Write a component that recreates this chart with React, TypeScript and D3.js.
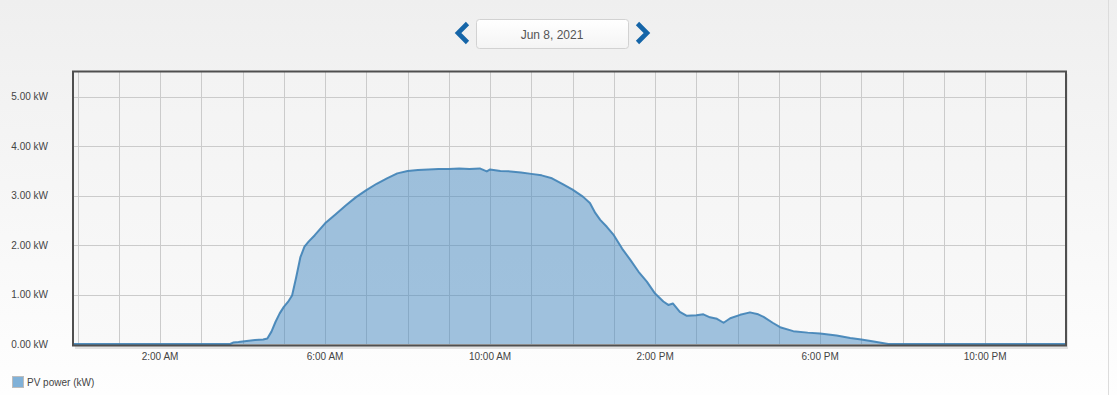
import React, { useEffect, useRef } from 'react';
import * as d3 from 'd3';

// hours since midnight (Jun 8, 2021) and PV power in kW
const hours = [
  -0.12, 3.7, 3.77, 3.9, 4.1, 4.3, 4.5, 4.6, 4.7, 4.8, 4.9, 5.0, 5.1, 5.2, 5.3, 5.4, 5.5, 5.6, 5.75,
  6.0, 6.25, 6.5, 6.75, 7.0, 7.25, 7.5, 7.75, 8.0, 8.25, 8.5, 8.75, 9.0, 9.25, 9.5, 9.75, 9.92,
  10.0, 10.25, 10.5, 10.75, 11.0, 11.25, 11.5, 11.75, 12.0, 12.25, 12.42, 12.55, 12.67, 12.83,
  13.0, 13.2, 13.4, 13.6, 13.8, 14.0, 14.2, 14.32, 14.43, 14.6, 14.77, 15.0, 15.17, 15.33, 15.5,
  15.66, 15.82, 16.06, 16.3, 16.5, 16.63, 16.85, 17.03, 17.35, 17.7, 18.0, 18.4, 18.73, 19.0,
  19.3, 19.65, 23.96
];
const power = [
  0, 0, 0.03, 0.04, 0.06, 0.08, 0.09, 0.11, 0.25, 0.45, 0.62, 0.75, 0.85, 0.98, 1.35, 1.75, 1.97, 2.07, 2.2,
  2.44, 2.62, 2.8, 2.97, 3.11, 3.24, 3.35, 3.45, 3.5, 3.52, 3.53, 3.54, 3.54, 3.55, 3.54, 3.55, 3.49,
  3.53, 3.5, 3.49, 3.47, 3.44, 3.41, 3.35, 3.24, 3.12, 2.98, 2.85, 2.65, 2.51, 2.37,
  2.2, 1.93, 1.7, 1.46, 1.26, 1.02, 0.86, 0.79, 0.82, 0.65, 0.57, 0.58, 0.6, 0.54, 0.51,
  0.43, 0.52, 0.59, 0.64, 0.6, 0.55, 0.43, 0.34, 0.26, 0.23, 0.21, 0.17, 0.12, 0.09,
  0.05, 0, 0
];
const yTicks = [0, 1, 2, 3, 4, 5];
const labelHours = [2, 6, 10, 14, 18, 22];
const dateLabel = 'Jun 8, 2021';
const seriesName = 'PV power (kW)';

const W = 1117;
const H = 395;
const day = new Date(2021, 5, 8);
const toDate = (h: number) => new Date(day.getTime() + h * 3600 * 1000);

export default function App() {
  const ref = useRef<SVGSVGElement>(null);

  useEffect(() => {
    if (!ref.current) return;
    const svg = d3.select(ref.current);
    svg.selectAll('*').remove();

    const left = 73, right = 1066, top = 72, bottom = 344;

    const defs = svg.append('defs');
    const pageGrad = defs.append('linearGradient').attr('id', 'pageBg')
      .attr('x1', 0).attr('y1', 0).attr('x2', 0).attr('y2', 1);
    pageGrad.append('stop').attr('offset', '0%').attr('stop-color', '#efefef');
    pageGrad.append('stop').attr('offset', '100%').attr('stop-color', '#fefefe');
    const plotGrad = defs.append('linearGradient').attr('id', 'plotBg')
      .attr('x1', 0).attr('y1', 0).attr('x2', 0).attr('y2', 1);
    plotGrad.append('stop').attr('offset', '0%').attr('stop-color', '#f3f3f3');
    plotGrad.append('stop').attr('offset', '100%').attr('stop-color', '#f9f9f9');
    const boxGrad = defs.append('linearGradient').attr('id', 'boxBg')
      .attr('x1', 0).attr('y1', 0).attr('x2', 0).attr('y2', 1);
    boxGrad.append('stop').attr('offset', '0%').attr('stop-color', '#ffffff');
    boxGrad.append('stop').attr('offset', '100%').attr('stop-color', '#f4f4f4');

    svg.append('rect').attr('width', W).attr('height', H).attr('fill', 'url(#pageBg)');
    svg.append('line').attr('x1', 1108.5).attr('x2', 1108.5).attr('y1', 0).attr('y2', H)
      .attr('stroke', '#dcdcdc');

    // date navigator
    const nav = svg.append('g');
    nav.append('rect').attr('x', 476.5).attr('y', 19.5).attr('width', 152).attr('height', 29)
      .attr('rx', 3).attr('fill', 'url(#boxBg)').attr('stroke', '#d2d2d2');
    nav.append('text').attr('x', 552).attr('y', 38.5).attr('text-anchor', 'middle')
      .attr('font-family', 'Liberation Sans, Arial, sans-serif').attr('font-size', 12)
      .attr('fill', '#555').text(dateLabel);
    nav.append('path').attr('d', 'M467.5,23.5 L458,33 L467.5,42.5')
      .attr('fill', 'none').attr('stroke', '#1565a8').attr('stroke-width', 4.6);
    nav.append('path').attr('d', 'M637.5,23.5 L647,33 L637.5,42.5')
      .attr('fill', 'none').attr('stroke', '#1565a8').attr('stroke-width', 4.6);

    const x = d3.scaleTime().domain([toDate(-0.11), toDate(23.96)]).range([left, right]);
    const y = d3.scaleLinear().domain([0, 5.5]).range([bottom, top]);

    // plot shadow + background
    svg.append('rect').attr('x', left + 2).attr('y', top + 2).attr('width', right - left)
      .attr('height', bottom - top + 3).attr('fill', '#e2e2e2');
    svg.append('rect').attr('x', left).attr('y', top).attr('width', right - left)
      .attr('height', bottom - top + 1).attr('fill', 'url(#plotBg)');

    const grid = svg.append('g').attr('stroke', '#cbcbcb').attr('stroke-width', 1);
    d3.range(0, 24).forEach(h => {
      const xx = Math.round(x(toDate(h))) + 0.5;
      grid.append('line').attr('x1', xx).attr('x2', xx).attr('y1', top).attr('y2', bottom);
    });
    yTicks.forEach(v => {
      const yy = Math.round(y(v)) + 0.5;
      grid.append('line').attr('x1', left).attr('x2', right).attr('y1', yy).attr('y2', yy);
    });

    const data = hours.map((h, i) => ({ t: toDate(h), v: power[i] }));
    const area = d3.area<{ t: Date; v: number }>()
      .x(d => x(d.t)).y0(y(0)).y1(d => y(d.v));
    const line = d3.line<{ t: Date; v: number }>()
      .x(d => x(d.t)).y(d => y(d.v));
    svg.append('path').datum(data).attr('d', area)
      .attr('fill', '#4689c2').attr('fill-opacity', 0.5);
    svg.append('path').datum(data).attr('d', line)
      .attr('fill', 'none').attr('stroke', '#3f82b6').attr('stroke-width', 2)
      .attr('stroke-linejoin', 'round').attr('stroke-opacity', 0.9);

    // frame
    svg.append('rect').attr('x', left).attr('y', top - 0.5).attr('width', right - left)
      .attr('height', bottom - top + 2).attr('fill', 'none')
      .attr('stroke', '#4f4f4f').attr('stroke-width', 2);

    const font = 'Liberation Sans, Arial, sans-serif';
    const yAxis = svg.append('g').attr('font-family', font).attr('font-size', 10).attr('fill', '#444');
    yTicks.forEach(v => {
      yAxis.append('text').attr('x', 48).attr('y', y(v)).attr('dy', '0.35em')
        .attr('text-anchor', 'end').text(`${v.toFixed(2)} kW`);
    });

    const fmt = d3.timeFormat('%-I:%M %p');
    const xAxis = svg.append('g').attr('font-family', font).attr('font-size', 10).attr('fill', '#444');
    labelHours.forEach(h => {
      xAxis.append('text').attr('x', x(toDate(h))).attr('y', 359.5)
        .attr('text-anchor', 'middle').text(fmt(toDate(h)));
    });

    // legend
    svg.append('rect').attr('x', 12.5).attr('y', 376.5).attr('width', 11).attr('height', 11)
      .attr('fill', '#80b1d8').attr('stroke', '#bdbdbd');
    svg.append('text').attr('x', 27).attr('y', 385.5).attr('font-family', font)
      .attr('font-size', 10).attr('fill', '#444').text(seriesName);
  }, []);

  return (
    <svg ref={ref} width={W} height={H}
      style={{ position: 'absolute', left: 0, top: 0, display: 'block' }} />
  );
}
